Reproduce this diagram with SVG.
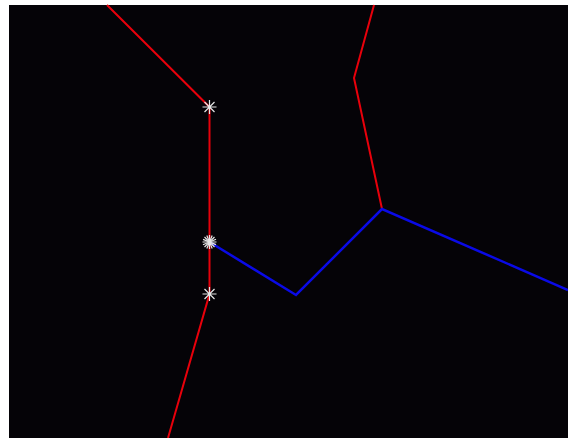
<svg xmlns="http://www.w3.org/2000/svg" width="568" height="438" viewBox="0 0 568 438">
<style>
.red{fill:none;stroke:#e8000b;stroke-width:2}
.blue{fill:none;stroke:#0a0ae6;stroke-width:2.5}
.star{stroke:#e6e6e6;stroke-width:1.2;fill:none}
</style>
<defs>
<g id="ast">
<path class="star" d="M-7,0H7M0,-7V7M-5,-5L5,5M-5,5L5,-5"/>
</g>
</defs>
<rect x="0" y="0" width="568" height="438" fill="#ffffff"/>
<rect x="9" y="5" width="559" height="433" fill="#050307"/>
<g id="connectors">
<polyline class="red" points="107,5 209.5,107 209.5,294 168,438"/>
<polyline class="red" points="374,5 354,78 382,209"/>
<polyline class="blue" points="209.5,242 296,295 382,209 568,290"/>
</g>
<g id="node1"><use href="#ast" x="209.5" y="107"/></g>
<g id="node2"><use href="#ast" x="209.5" y="242"/><use href="#ast" transform="translate(209.5,242) rotate(22.5)"/></g>
<g id="node3"><use href="#ast" x="209.5" y="294"/></g>
</svg>
